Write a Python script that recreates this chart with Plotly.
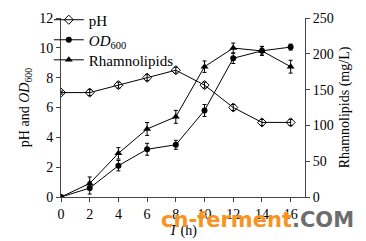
import plotly.graph_objects as go

time_h = [0, 2, 4, 6, 8, 10, 12, 14, 16]
ph = [7.0, 7.0, 7.5, 8.0, 8.5, 7.5, 6.0, 5.0, 5.0]
ph_err = [0.1, 0.2, 0.2, 0.2, 0.2, 0.2, 0.2, 0.2, 0.2]
od600 = [0.0, 0.6, 2.1, 3.2, 3.5, 5.8, 9.3, 9.8, 10.05]
od_err = [0.05, 0.4, 0.35, 0.4, 0.3, 0.4, 0.35, 0.3, 0.2]
rhamno = [0.0, 19, 61, 95, 112, 182, 208, 204, 182]
rh_err = [1, 9, 8, 9, 9, 8, 7, 6, 9]

font = "Liberation Serif"
fig = go.Figure()
fig.add_trace(go.Scatter(x=time_h, y=ph, name="pH", mode="lines+markers", legend="legend",
    line=dict(color="black", width=1),
    marker=dict(symbol="diamond-open", size=7, color="black", line=dict(width=1)),
    error_y=dict(type="data", array=ph_err, color="black", thickness=1, width=2)))
fig.add_trace(go.Scatter(x=time_h, y=od600, name="<i>OD</i><sub>600</sub>", mode="lines+markers", legend="legend2",
    line=dict(color="black", width=1),
    marker=dict(symbol="circle", size=6, color="black"),
    error_y=dict(type="data", array=od_err, color="black", thickness=1, width=2)))
fig.add_trace(go.Scatter(x=time_h, y=rhamno, name="Rhamnolipids", mode="lines+markers", yaxis="y2", legend="legend3",
    line=dict(color="black", width=1),
    marker=dict(symbol="triangle-up", size=7, color="black"),
    error_y=dict(type="data", array=rh_err, color="black", thickness=1, width=2)))

axis_common = dict(showline=True, linecolor="#444", linewidth=1, ticks="outside",
                   ticklen=4, tickcolor="#444", showgrid=False, zeroline=False, automargin=False,
                   tickfont=dict(family=font, size=14, color="black"))

def leg(y):
    return dict(x=-0.05, y=y, xanchor="left", yanchor="middle", bgcolor="rgba(0,0,0,0)",
                font=dict(family=font, size=15), itemwidth=30)

fig.update_layout(
    width=366, height=241,
    margin=dict(l=61, r=61, t=18, b=44, autoexpand=False),
    paper_bgcolor="white", plot_bgcolor="white",
    font=dict(family=font, size=14, color="black"),
    showlegend=True,
    legend=leg(0.989), legend2=leg(0.877), legend3=leg(0.765),
    xaxis=dict(range=[0, 17], tickvals=[0, 2, 4, 6, 8, 10, 12, 14, 16],
               title=dict(text="<i>T</i> (h)", standoff=4, font=dict(family=font, size=14)),
               **axis_common),
    yaxis=dict(range=[0, 12], tickvals=[0, 2, 4, 6, 8, 10, 12],
               title=dict(text="pH and <i>OD</i><sub>600</sub>", standoff=6, font=dict(family=font, size=14)),
               **axis_common),
    yaxis2=dict(range=[0, 250], tickvals=[0, 50, 100, 150, 200, 250], overlaying="y", side="right",
                title=dict(text="Rhamnolipids (mg/L)", standoff=6, font=dict(family=font, size=14)),
                **axis_common),
)
fig.add_annotation(xref="paper", yref="paper", x=0.40, y=-0.13, xanchor="left", yanchor="middle",
    showarrow=False,
    text="<span style='color:#F7931E'>cn-ferment</span><span style='color:#6d6d6d'>.COM</span>",
    font=dict(family="DejaVu Sans", size=21, color="#F7931E", weight="bold"))
fig.write_html("out.html")
